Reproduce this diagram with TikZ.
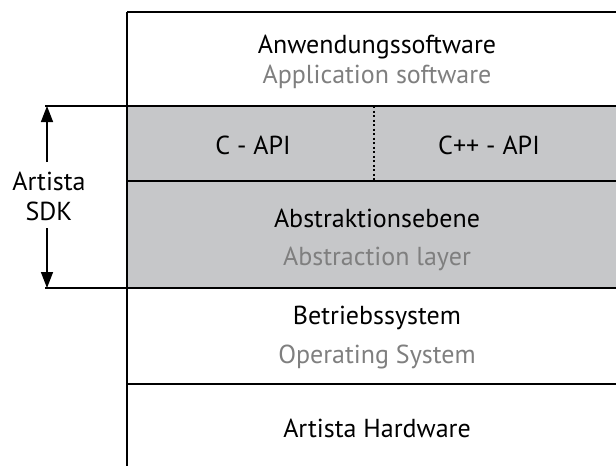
\documentclass[tikz,border=0pt]{standalone}
\usepackage{fontspec}
\setmainfont{PT Sans}
\usetikzlibrary{calc,positioning,arrows.meta}
\definecolor{layergray}{HTML}{C6C7C9}
\definecolor{subgray}{HTML}{7F7F7F}

\begin{document}
\begin{tikzpicture}[x=1pt,y=-1pt,
		lbl/.style={font=\fontsize{26}{30}\selectfont,inner sep=0pt,anchor=base},
		sub/.style={lbl,text=subgray},
		border/.style={line width=2pt},
		sdkarrow/.style={line width=1.5pt,-{Triangle[length=16pt,width=12pt]}}]
		\useasboundingbox (0,0) rectangle (616,466);
		% layer boundaries
		\foreach \y/\n in {12/0,106/1,181/2,288/3,384/4} {
			\coordinate (l\n) at (127,\y);
			\coordinate (r\n) at (616,\y);
		}
		\coordinate (lb) at (127,466);
		\coordinate (t1) at (45,106);
		\coordinate (t3) at (45,288);
		\coordinate (d1) at (374,106);
		%
		\fill[layergray] (l1) rectangle (r3);
		\draw[border] (l0) -- (r0);
		\draw[border] (t1) -- (r1);
		\draw[border] (l2) -- (r2);
		\draw[border] (t3) -- (r3);
		\draw[border] (l4) -- (r4);
		\draw[line width=1.5pt] (l0) -- (lb);
		\draw[line width=2pt,dash pattern=on 2pt off 2.5pt] (d1) -- (d1 |- l2);
		%
		\node[lbl] (app) at (377,53) {Anwendungssoftware};
		\node[sub] (appen) at (377,83) {Application software};
		\node[lbl] (capi) at (253,154) {C - API};
		\node[lbl] (cppapi) at (489,154) {C++ - API};
		\node[lbl] (abs) at (377,227) {Abstraktionsebene};
		\node[sub] (absen) at (377,265) {Abstraction layer};
		\node[lbl] (os) at (377,324) {Betriebssystem};
		\node[sub] (osen) at (377,363) {Operating System};
		\node[lbl] (hw) at (377,437) {Artista Hardware};
		% SDK bracket
		\node[lbl] (sdk1) at (49,190) {Artista};
		\node[lbl] (sdk2) at (49,220) {SDK};
		\coordinate (a1) at (47,162);
		\coordinate (a2) at (47,228);
		\draw[sdkarrow] (a1) -- (t1 -| a1);
		\draw[sdkarrow] (a2) -- (t3 -| a2);
\end{tikzpicture}
\end{document}
